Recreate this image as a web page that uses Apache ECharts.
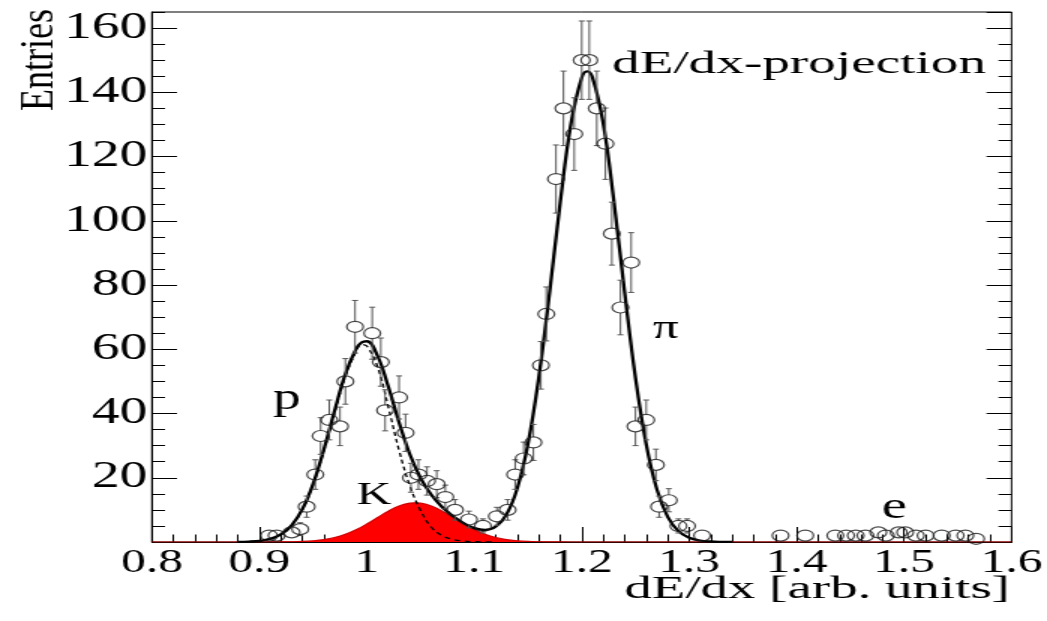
<!DOCTYPE html>
<html>
<head>
<meta charset="utf-8">
<script src="https://cdn.jsdelivr.net/npm/echarts@6/dist/echarts.min.js"></script>
<style>
  html, body { margin: 0; padding: 0; background: #fff; overflow: hidden; }
  #wrap { width: 1047px; height: 621px; overflow: hidden; position: relative; }
  /* the canvas is drawn narrow and widened, as the original ROOT canvas was */
  #chart { width: 698px; height: 621px; transform: scaleX(1.5); transform-origin: 0 0; }
</style>
</head>
<body>
<div id="wrap"><div id="chart"></div></div>
<script>
// measured dE/dx values (bin position) and entries with their errors
const binX = [0.909,0.916,0.930,0.938,0.944,0.952,0.957,0.965,0.975,0.980,
              0.989,1.005,1.013,1.017,1.030,1.036,1.041,1.048,1.056,1.065,
              1.073,1.082,1.095,1.108,1.121,1.131,1.138,1.146,1.155,1.162,
              1.167,1.176,1.183,1.193,1.200,1.207,1.214,1.222,1.228,1.236,
              1.246,1.250,1.260,1.269,1.272,1.281,1.290,1.298,1.312,1.385,
              1.408,1.436,1.446,1.455,1.464,1.476,1.483,1.495,1.501,1.511,
              1.520,1.535,1.548,1.557,1.567];
const counts = [2,2,3,4,11,21,33,38,36,50,
                67,65,56,41,45,34,20,21,19,18,
                14,10,7,5,8,10,21,26,31,55,
                71,113,135,127,150,150,135,124,96,73,
                87,36,38,24,11,13,5,5,2,2,
                2,2,2,2,2,3,2,3,3,2,
                2,2,2,2,1];
const errors = [1.4,1.4,1.7,2.0,3.3,4.6,5.7,6.2,6.0,7.1,
                8.2,8.1,7.5,6.4,6.7,5.8,4.5,4.6,4.4,4.2,
                3.7,3.2,2.6,2.2,2.8,3.2,4.6,5.1,5.6,7.4,
                8.4,10.6,11.6,11.3,12.2,12.2,11.6,11.1,9.8,8.5,
                9.3,6.0,6.2,4.9,3.3,3.6,2.2,2.2,1.4,1.4,
                1.4,1.4,1.4,1.4,1.4,1.7,1.4,1.7,1.7,1.4,
                1.4,1.4,1.4,1.4,1.0];

// total fit (p + K + pi)
const fitX = [0.88,0.89,0.90,0.91,0.92,0.93,0.94,0.95,0.96,0.97,0.98,0.99,0.995,
              1.00,1.01,1.02,1.03,1.04,1.05,1.06,1.07,1.08,1.09,1.10,1.11,1.12,1.13,
              1.14,1.15,1.16,1.17,1.18,1.19,1.20,1.205,1.21,1.22,1.23,1.24,1.25,1.26,
              1.27,1.28,1.29,1.30,1.31,1.32,1.33,1.34];
const fitTotal = [0.03,0.12,0.34,0.96,2.35,5.19,10.2,18.1,28.8,40.9,52.3,60.1,62.1,
                  62.5,57.9,48.3,37.2,27.3,19.9,14.7,10.9,8.11,5.88,4.31,3.74,4.80,8.60,
                  16.7,30.6,51.2,77.5,105.8,130.3,144.6,146.5,144.6,130.3,105.8,77.5,51.1,30.4,
                  16.3,7.85,3.41,1.34,0.47,0.15,0.04,0.01];

// proton component (dashed)
const protonX = [0.88,0.89,0.90,0.91,0.92,0.93,0.94,0.95,0.96,0.97,0.98,0.99,0.995,
                 1.00,1.01,1.02,1.03,1.04,1.05,1.06,1.07,1.08,1.09,1.10,1.11,1.12];
const protonFit = [0.03,0.12,0.34,0.95,2.33,5.15,10.1,17.9,28.4,40.2,51.5,59.3,61.5,
                   61.0,54.5,42.0,28.5,17.5,9.8,4.6,2.0,0.8,0.3,0.1,0.03,0.00];

// kaon component (filled)
const kaonX = [0.80,0.90,0.92,0.93,0.94,0.95,0.96,0.97,0.98,0.99,1.00,1.01,1.02,1.03,1.04,1.045,
               1.05,1.06,1.07,1.08,1.09,1.10,1.11,1.12,1.13,1.14,1.15,1.16,1.17,1.18,1.20,1.60];
const kaonFit = [0,0,0.03,0.07,0.17,0.38,0.75,1.39,2.39,3.80,5.59,7.61,9.59,11.19,12.08,12.2,
                 12.08,11.19,9.59,7.61,5.59,3.80,2.39,1.39,0.75,0.38,0.17,0.07,0.03,0.01,0,0];

// particle labels
const peakLabels = ['dE/dx-projection', 'π', 'p', 'K', 'e'];
const xTitle = 'dE/dx [arb. units]';
const yTitle = 'Entries';

const zip = (xs, ys) => xs.map((x, i) => [x, ys[i]]);
const SERIF = '"Liberation Serif", "Times New Roman", serif';
const MARK_R = 5.5;

const chart = echarts.init(document.getElementById('chart'));

function errorBar(params, api) {
  const x = api.value(0), y = api.value(1), e = api.value(2);
  const c = api.coord([x, y]);
  const hi = api.coord([x, y + e]);
  const lo = api.coord([x, Math.max(0, y - e)]);
  const st = { stroke: '#555', lineWidth: 1 };
  const kids = [];
  if (c[1] - MARK_R > hi[1]) {
    kids.push({ type: 'line', shape: { x1: c[0], y1: hi[1], x2: c[0], y2: c[1] - MARK_R }, style: st });
    kids.push({ type: 'line', shape: { x1: c[0] - 2, y1: hi[1], x2: c[0] + 2, y2: hi[1] }, style: st });
  }
  if (lo[1] > c[1] + MARK_R) {
    kids.push({ type: 'line', shape: { x1: c[0], y1: c[1] + MARK_R, x2: c[0], y2: lo[1] }, style: st });
    kids.push({ type: 'line', shape: { x1: c[0] - 2, y1: lo[1], x2: c[0] + 2, y2: lo[1] }, style: st });
  }
  return { type: 'group', children: kids };
}

const yBase = {
  type: 'value', min: 0, max: 165,
  splitLine: { show: false },
  axisLine: { show: false }
};

const option = {
  animation: false,
  backgroundColor: '#fff',
  grid: { left: 101.3, right: 23.3, top: 12, bottom: 79, show: true, borderColor: '#000', borderWidth: 1, backgroundColor: 'transparent' },
  xAxis: {
    type: 'value', min: 0.8, max: 1.6, interval: 0.1,
    axisLine: { show: true, lineStyle: { color: '#000', width: 1 } },
    axisTick: { show: true, inside: true, length: 15, lineStyle: { color: '#000', width: 1 } },
    minorTick: { show: true, splitNumber: 5, length: 7.5, lineStyle: { color: '#000', width: 1 } },
    splitLine: { show: false },
    axisLabel: {
      margin: 5, color: '#000', fontFamily: SERIF, fontSize: 33,
      formatter: v => String(Math.round(v * 10) / 10)
    }
  },
  yAxis: [
    Object.assign({}, yBase, {
      position: 'left', interval: 20,
      axisLine: { show: true, lineStyle: { color: '#000' } },
      axisTick: { show: true, inside: true, length: 16.7, lineStyle: { color: '#000' } },
      axisLabel: { margin: 3, color: '#000', fontFamily: SERIF, fontSize: 37, showMinLabel: false, showMaxLabel: false }
    }),
    Object.assign({}, yBase, {
      position: 'left', interval: 5,
      axisTick: { show: true, inside: true, length: 8.7, lineStyle: { color: '#000' } },
      axisLabel: { show: false }
    }),
    Object.assign({}, yBase, {
      position: 'right', interval: 20,
      axisTick: { show: true, inside: true, length: 16.7, lineStyle: { color: '#000' } },
      axisLabel: { show: false }
    }),
    Object.assign({}, yBase, {
      position: 'right', interval: 5,
      axisTick: { show: true, inside: true, length: 8.7, lineStyle: { color: '#000' } },
      axisLabel: { show: false }
    })
  ],
  series: [
    {
      name: 'K', type: 'line', data: zip(kaonX, kaonFit), smooth: 0.4, symbol: 'none', z: 2,
      lineStyle: { color: '#d00000', width: 1.2 },
      areaStyle: { color: '#ff0000', opacity: 1 }
    },
    {
      name: 'fit', type: 'line', data: zip(fitX, fitTotal), smooth: 0.4, symbol: 'none', z: 4,
      lineStyle: { color: '#000', width: 2.3 }
    },
    {
      name: 'p', type: 'line', data: zip(protonX, protonFit), smooth: 0.4, symbol: 'none', z: 5,
      lineStyle: { color: '#000', width: 1.3, type: [4, 3] }
    },
    {
      name: 'errors', type: 'custom', z: 6,
      data: binX.map((x, i) => [x, counts[i], errors[i]]),
      renderItem: errorBar
    },
    {
      name: 'data', type: 'scatter', z: 7, symbol: 'circle', symbolSize: 2 * MARK_R,
      data: zip(binX, counts),
      itemStyle: { color: 'rgba(0,0,0,0)', borderColor: '#1a1a1a', borderWidth: 1.2 }
    }
  ],
  graphic: [
    { type: 'text', x: 408, y: 64.2, scaleX: 1.15, z: 10,
      style: { text: peakLabels[0], fill: '#000', font: '32px ' + SERIF, align: 'left', verticalAlign: 'middle' } },
    { type: 'text', x: 435.3, y: 328.9, z: 10,
      style: { text: peakLabels[1], fill: '#000', font: '34px ' + SERIF, align: 'left', verticalAlign: 'middle' } },
    { type: 'text', x: 182, y: 399.1, z: 10,
      style: { text: peakLabels[2], fill: '#000', font: '37px ' + SERIF, align: 'left', verticalAlign: 'middle' } },
    { type: 'text', x: 237.8, y: 495.9, z: 10,
      style: { text: peakLabels[3], fill: '#000', font: '32px ' + SERIF, align: 'left', verticalAlign: 'middle' } },
    { type: 'text', x: 587.8, y: 508.2, z: 10,
      style: { text: peakLabels[4], fill: '#000', font: '38px ' + SERIF, align: 'left', verticalAlign: 'middle' } },
    { type: 'text', x: 673.3, y: 590, scaleX: 1.18, z: 10,
      style: { text: xTitle, fill: '#000', font: '31px ' + SERIF, align: 'right', verticalAlign: 'middle' } },
    { type: 'text', x: 27, y: 111, rotation: Math.PI / 2, scaleY: 0.85, z: 10,
      style: { text: yTitle, fill: '#000', font: '36px ' + SERIF, align: 'left', verticalAlign: 'middle' } }
  ]
};

chart.setOption(option);
</script>
</body>
</html>
